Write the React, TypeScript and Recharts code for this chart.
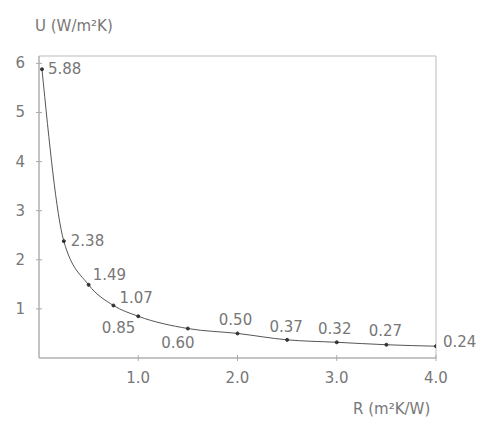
import React from 'react';
import { LineChart, Line, XAxis, YAxis, ReferenceArea, LabelList } from 'recharts';

// values
const resistance = [0.03, 0.25, 0.5, 0.75, 1.0, 1.5, 2.0, 2.5, 3.0, 3.5, 4.0];
const uValues = [5.88, 2.38, 1.49, 1.07, 0.85, 0.6, 0.5, 0.37, 0.32, 0.27, 0.24];
const uLabels = ['5.88', '2.38', '1.49', '1.07', '0.85', '0.60', '0.50', '0.37', '0.32', '0.27', '0.24'];
const xTicks = [1, 2, 3, 4];
const yTicks = [1, 2, 3, 4, 5, 6];

// where each value label sits relative to its point
const labelPlacement: { dx: number; dy: number; anchor: 'start' | 'middle' | 'end' }[] = [
    { dx: 6, dy: 0, anchor: 'start' },
    { dx: 7, dy: 0, anchor: 'start' },
    { dx: 4, dy: -10, anchor: 'start' },
    { dx: 6, dy: -7, anchor: 'start' },
    { dx: -3, dy: 12, anchor: 'end' },
    { dx: -10, dy: 14, anchor: 'middle' },
    { dx: -2, dy: -13, anchor: 'middle' },
    { dx: -1, dy: -13, anchor: 'middle' },
    { dx: -2, dy: -13, anchor: 'middle' },
    { dx: -1, dy: -14, anchor: 'middle' },
    { dx: 7, dy: -4, anchor: 'start' },
];

const data = resistance.map((r, i) => ({ r, u: uValues[i], label: uLabels[i] }));

const TEXT = '#777';
const FONT = '"DejaVu Sans", sans-serif';

const XTick = (props: any) => {
    const { x, y, payload } = props;
    return (
        <g>
            <line x1={x} x2={x} y1={y - 3} y2={y + 3} stroke="#aaa" />
            <text x={x} y={y + 20} textAnchor="middle" dominantBaseline="central" fill={TEXT} fontSize={15} fontFamily={FONT}>
                {Number(payload.value).toFixed(1)}
            </text>
        </g>
    );
};

const YTick = (props: any) => {
    const { x, y, payload } = props;
    return (
        <g>
            <line x1={x - 3} x2={x + 3} y1={y} y2={y} stroke="#aaa" />
            <text x={x - 14} y={y} textAnchor="end" dominantBaseline="central" fill={TEXT} fontSize={15} fontFamily={FONT}>
                {payload.value}
            </text>
        </g>
    );
};

const ValueLabel = (props: any) => {
    const { x, y, index, value } = props;
    const p = labelPlacement[index];
    return (
        <text x={x + p.dx} y={y + p.dy} textAnchor={p.anchor} dominantBaseline="central" fill={TEXT} fontSize={15} fontFamily={FONT}>
            {value}
        </text>
    );
};

export default function App() {
    return (
        <div style={{ position: 'absolute', left: 0, top: 0, width: 480, height: 423, background: '#fff' }}>
            <div style={{ position: 'absolute', left: 35, top: 17, color: TEXT, fontSize: 15, fontFamily: FONT }}>
                U (W/m²K)
            </div>
            <div style={{ position: 'absolute', left: 353, top: 400, color: TEXT, fontSize: 15, fontFamily: FONT }}>
                R (m²K/W)
            </div>
            <LineChart width={480} height={423} data={data} margin={{ top: 56, right: 44, bottom: 35, left: 9 }}>
                <XAxis
                    dataKey="r"
                    type="number"
                    domain={[0, 4]}
                    ticks={xTicks}
                    stroke="#aaa"
                    tickLine={false}
                    tickSize={0}
                    tickMargin={0}
                    tick={<XTick />}
                    height={30}
                    interval={0}
                    allowDataOverflow
                />
                <YAxis
                    type="number"
                    domain={[0, 6.15]}
                    ticks={yTicks}
                    stroke="#aaa"
                    tickLine={false}
                    tickSize={0}
                    tickMargin={0}
                    tick={<YTick />}
                    width={30}
                    interval={0}
                    allowDataOverflow
                />
                <ReferenceArea x1={0} x2={4} y1={0} y2={6.15} fill="none" stroke="#bbb" strokeWidth={1} ifOverflow="visible" />
                <Line
                    type="monotone"
                    dataKey="u"
                    stroke="#555"
                    strokeWidth={1}
                    dot={{ r: 1.5, fill: '#333', stroke: '#333' }}
                    isAnimationActive={false}
                >
                    <LabelList dataKey="label" content={<ValueLabel />} />
                </Line>
            </LineChart>
        </div>
    );
}
